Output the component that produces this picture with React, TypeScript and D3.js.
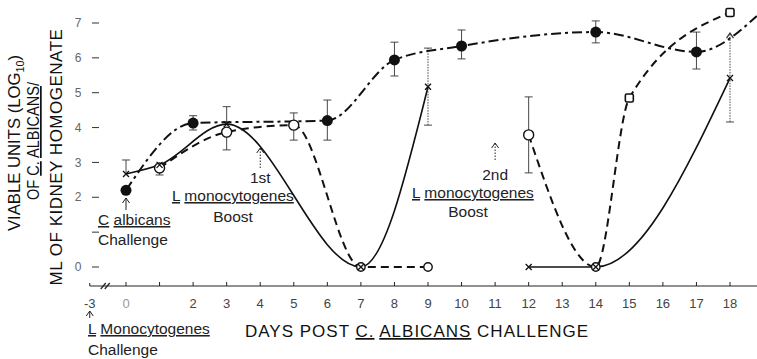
import React from 'react';
import * as d3 from 'd3';

const W = 757;
const H = 359;

// Series A (filled circles, dash-dot line)
const aDays = [0, 2, 6, 8, 10, 14, 17];
const aVals = [2.2, 4.13, 4.2, 5.94, 6.34, 6.74, 6.17];
const aTailDays = [18.8];
const aTailVals = [7.2];
const aErrDays = [2, 6, 8, 10, 14, 17];
const aErrLo = [3.93, 3.64, 5.48, 5.97, 6.43, 5.68];
const aErrHi = [4.34, 4.79, 6.45, 6.8, 7.06, 6.74];

// Series B (open circles / squares, dashed line)
const bSeg1Days = [1, 3, 5, 7, 9];
const bSeg1Vals = [2.84, 3.87, 4.07, 0, 0];
const bSeg2Days = [12, 14, 15, 18];
const bSeg2Vals = [3.79, 0, 4.85, 7.3];
const bSquareDays = [15, 18];
const bErrDays = [1, 3, 5, 12];
const bErrLo = [2.64, 3.36, 3.64, 2.7];
const bErrHi = [2.84, 3.87, 4.42, 4.88];

// Series C (x markers, solid line)
const cSeg1Days = [0, 1, 3, 7, 9];
const cSeg1Vals = [2.67, 2.93, 4.1, 0, 5.17];
const cSeg2Days = [12, 14, 18];
const cSeg2Vals = [0, 0, 5.42];
const cErrDays = [0, 3, 9, 18];
const cErrLo = [2.67, 4.1, 4.07, 4.16];
const cErrHi = [3.07, 4.6, 6.28, 6.71];
const cArrowDays = [18];

// Axes
const xTickDays = d3.range(0, 19);
const xTickLabels = [0, 2, 3, 4, 5, 6, 7, 8, 9, 10, 11, 12, 13, 14, 15, 16, 17, 18];
const xBreakLabel = '-3';
const yTicks = [0, 1, 2, 3, 4, 5, 6, 7];
const yTickLabels = [0, 2, 3, 4, 5, 6, 7];

const FONT = '"Liberation Sans", Arial, Helvetica, sans-serif';

const x = d3.scaleLinear().domain([0, 18]).range([126, 730]);
const y = d3.scaleLinear().domain([0, 7]).range([267, 23]);
const BREAK_DAY = -1.08;
const AXIS_Y = 286;

const zip = (ds: number[], vs: number[]) => ds.map((d, i) => [d, vs[i]] as [number, number]);
const line = d3
  .line<[number, number]>()
  .x((d) => x(d[0]))
  .y((d) => y(d[1]))
  .curve(d3.curveMonotoneX);

function UpArrow({ cx, y1, y2, dotted }: { cx: number; y1: number; y2: number; dotted?: boolean }) {
  return (
    <g stroke="#222" fill="none" strokeWidth={1}>
      <line x1={cx} x2={cx} y1={y1} y2={y2} strokeDasharray={dotted ? '1.5,1.5' : undefined} />
      <path d={`M${cx - 3.5},${y2 + 5} L${cx},${y2} L${cx + 3.5},${y2 + 5}`} />
    </g>
  );
}

function ErrBar({ d, lo, hi, v, dotted, arrowTop }: { d: number; lo: number; hi: number; v?: number; dotted?: boolean; arrowTop?: boolean }) {
  const cx = x(d);
  return (
    <g stroke="#333" strokeWidth={0.9} fill="none">
      <line x1={cx} x2={cx} y1={y(lo)} y2={y(hi)} strokeDasharray={dotted ? '1.5,1.2' : undefined} />
      {lo !== v && <line x1={cx - 4} x2={cx + 4} y1={y(lo)} y2={y(lo)} />}
      {arrowTop ? (
        <path d={`M${cx - 3.5},${y(hi) + 5} L${cx},${y(hi)} L${cx + 3.5},${y(hi) + 5}`} strokeWidth={1.2} />
      ) : (
        hi !== v && <line x1={cx - 4} x2={cx + 4} y1={y(hi)} y2={y(hi)} />
      )}
    </g>
  );
}

export default function App() {
  const aLine = line(zip(aDays.concat(aTailDays), aVals.concat(aTailVals)));
  const bLine1 = line(zip(bSeg1Days, bSeg1Vals));
  const bLine2 = line(zip(bSeg2Days, bSeg2Vals));
  const cLine1 = line(zip(cSeg1Days, cSeg1Vals));
  const cLine2 = line(zip(cSeg2Days, cSeg2Vals));

  const bAll = zip(bSeg1Days.concat(bSeg2Days), bSeg1Vals.concat(bSeg2Vals));
  const cAll = zip(cSeg1Days.concat(cSeg2Days), cSeg1Vals.concat(cSeg2Vals));

  const breakX = x(BREAK_DAY);

  return (
    <svg
      width={W}
      height={H}
      viewBox={`0 0 ${W} ${H}`}
      style={{ position: 'absolute', left: 0, top: 0, background: '#fff' }}
      fontFamily={FONT}
    >
      <rect x={0} y={0} width={W} height={H} fill="#fff" />

      {/* Y axis title */}
      <g fill="#111" fontSize={17}>
        <text transform={`translate(20,143) rotate(-90)`} textAnchor="middle" textLength={176} lengthAdjust="spacingAndGlyphs">
          VIABLE UNITS (LOG<tspan fontSize={11} dy={4}>10</tspan>
          <tspan dy={-4}>)</tspan>
        </text>
        <text transform={`translate(39,141) rotate(-90)`} textAnchor="middle" textLength={118} lengthAdjust="spacingAndGlyphs">
          OF <tspan textDecoration="underline">C.</tspan> <tspan textDecoration="underline">ALBICANS</tspan>/
        </text>
        <text transform={`translate(62,157) rotate(-90)`} textAnchor="middle" letterSpacing={0.5}>
          ML OF KIDNEY HOMOGENATE
        </text>
      </g>

      {/* Y ticks */}
      <g stroke="#333" strokeWidth={1}>
        {yTicks.map((t) => (
          <line key={t} x1={92} x2={99} y1={y(t)} y2={y(t)} />
        ))}
      </g>
      <g fill="#666" fontSize={12} textAnchor="middle">
        {yTickLabels.map((t) => (
          <text key={t} x={78} y={y(t)} dy="0.35em">
            {t}
          </text>
        ))}
      </g>

      {/* X axis */}
      <g stroke="#222" strokeWidth={1} fill="none">
        <line x1={breakX} x2={W} y1={AXIS_Y} y2={AXIS_Y} />
        <line x1={breakX} x2={breakX} y1={AXIS_Y} y2={AXIS_Y - 3} />
        <line x1={breakX + 11} x2={breakX + 16} y1={AXIS_Y + 3} y2={AXIS_Y - 3} strokeWidth={1.2} />
        <line x1={breakX + 15} x2={breakX + 20} y1={AXIS_Y + 3} y2={AXIS_Y - 3} strokeWidth={1.2} />
        {xTickDays.map((d) => (
          <line key={d} x1={x(d)} x2={x(d)} y1={AXIS_Y} y2={AXIS_Y - 4} />
        ))}
      </g>
      <g fill="#444" fontSize={13} textAnchor="middle">
        <text x={breakX} y={308}>
          {xBreakLabel}
        </text>
        {xTickLabels.map((d) => (
          <text key={d} x={x(d)} y={308} fill={d === 0 ? '#999' : undefined}>
            {d}
          </text>
        ))}
      </g>
      <UpArrow cx={breakX} y1={318} y2={311} />

      {/* X axis title */}
      <text x={245} y={337} fontSize={17} fill="#111" letterSpacing={1}>
        DAYS POST <tspan textDecoration="underline">C.</tspan>{' '}
        <tspan textDecoration="underline">ALBICANS</tspan> CHALLENGE
      </text>

      {/* Annotations */}
      <g fill="#222" fontSize={15.5}>
        <text x={88} y={334}>
          <tspan textDecoration="underline">L</tspan> <tspan textDecoration="underline">Monocytogenes</tspan>
        </text>
        <text x={88} y={355}>Challenge</text>

        <text x={98} y={225}>
          <tspan textDecoration="underline">C</tspan> <tspan textDecoration="underline">albicans</tspan>
        </text>
        <text x={98} y={245}>Challenge</text>

        <text x={x(4)} y={183} textAnchor="middle">1st</text>
        <text x={172} y={201}>
          <tspan textDecoration="underline">L</tspan> <tspan textDecoration="underline">monocytogenes</tspan>
        </text>
        <text x={233} y={222} textAnchor="middle">Boost</text>

        <text x={x(11)} y={180} textAnchor="middle">2nd</text>
        <text x={412} y={198}>
          <tspan textDecoration="underline">L</tspan> <tspan textDecoration="underline">monocytogenes</tspan>
        </text>
        <text x={468} y={217} textAnchor="middle">Boost</text>
      </g>
      <UpArrow cx={x(0)} y1={210} y2={198} />
      <UpArrow cx={x(4)} y1={168} y2={148} dotted />
      <UpArrow cx={x(11)} y1={160} y2={143} dotted />

      {/* Lines */}
      <g fill="none" stroke="#111">
        <path d={aLine || ''} strokeWidth={2} strokeDasharray="10,4,3,4" />
        <path d={bLine1 || ''} strokeWidth={2} strokeDasharray="8,5" />
        <path d={bLine2 || ''} strokeWidth={2} strokeDasharray="8,5" />
        <path d={cLine1 || ''} strokeWidth={1.6} />
        <path d={cLine2 || ''} strokeWidth={1.6} />
      </g>

      {/* Error bars */}
      {aErrDays.map((d, i) => (
        <ErrBar key={'a' + d} d={d} lo={aErrLo[i]} hi={aErrHi[i]} />
      ))}
      {bErrDays.map((d, i) => (
        <ErrBar key={'b' + d} d={d} lo={bErrLo[i]} hi={bErrHi[i]} />
      ))}
      {cErrDays.map((d, i) => (
        <ErrBar
          key={'c' + d}
          d={d}
          lo={cErrLo[i]}
          hi={cErrHi[i]}
          v={cAllValue(d)}
          dotted={d > 5}
          arrowTop={cArrowDays.includes(d)}
        />
      ))}

      {/* Markers A */}
      {zip(aDays, aVals).map(([d, v]) => (
        <circle key={'ma' + d} cx={x(d)} cy={y(v)} r={5.5} fill="#111" />
      ))}
      {/* Markers B */}
      {bAll.map(([d, v]) =>
        bSquareDays.includes(d) ? (
          <rect key={'mb' + d} x={x(d) - 4} y={y(v) - 4} width={8} height={8} rx={1.5} fill="#fff" stroke="#111" strokeWidth={1.6} />
        ) : (
          <circle key={'mb' + d} cx={x(d)} cy={y(v)} r={v === 0 ? 4.2 : 5} fill="#fff" stroke="#111" strokeWidth={1.4} />
        )
      )}
      {/* Markers C */}
      {cAll.map(([d, v]) => (
        <path
          key={'mc' + d}
          d={`M${x(d) - 3},${y(v) - 3}L${x(d) + 3},${y(v) + 3}M${x(d) - 3},${y(v) + 3}L${x(d) + 3},${y(v) - 3}`}
          stroke="#111"
          strokeWidth={1.3}
        />
      ))}
    </svg>
  );
}

function cAllValue(d: number) {
  const days = cSeg1Days.concat(cSeg2Days);
  const vals = cSeg1Vals.concat(cSeg2Vals);
  return vals[days.indexOf(d)];
}
